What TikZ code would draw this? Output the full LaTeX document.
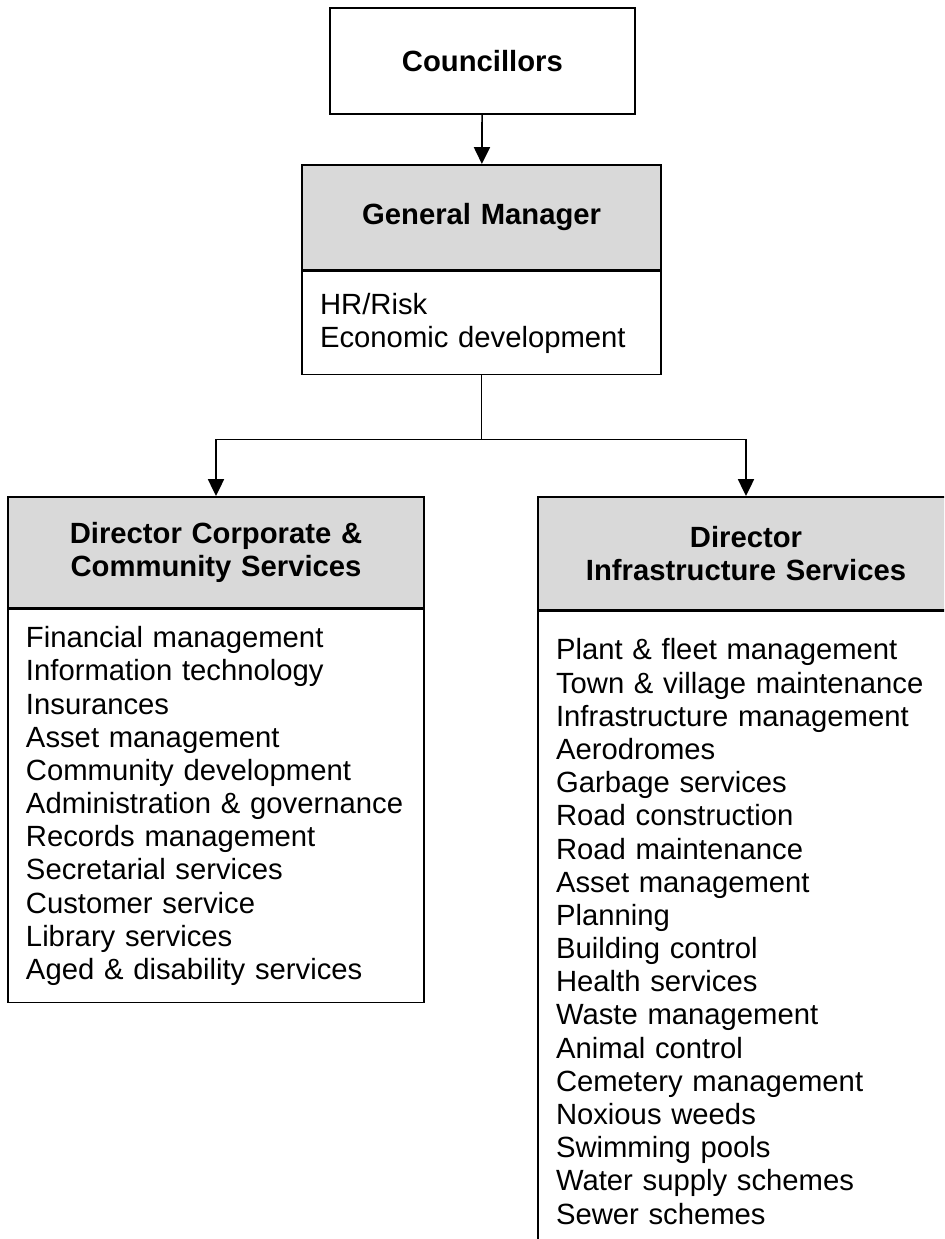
\documentclass[tikz,border=0pt]{standalone}
\usepackage{fontspec}
\setmainfont{Liberation Sans}
\usetikzlibrary{arrows.meta}
\begin{document}
\fontsize{20.8}{23.6}\selectfont
\begin{tikzpicture}[line width=1.2pt,
 box/.style={draw,inner sep=0pt,align=center,font=\bfseries,anchor=north},
 headbox/.style={box,fill=black!15},
 listbox/.style={draw,inner xsep=0.45cm,inner ysep=0pt,align=left,anchor=north},
 arr/.style={-{Triangle[length=0.42cm,width=0.4cm]}}]
\useasboundingbox (0,0) rectangle (23.6,-30.975);
\clip (0,0) rectangle (23.6,-30.975);

\node[box,text width=7.625cm,minimum height=2.65cm] (coun) at (12.06,-0.175) {Councillors};
\node[headbox,text width=8.975cm,minimum height=2.625cm] (gm) at (12.04,-4.1) {General Manager};
\node[listbox,text width=8.075cm,minimum height=2.575cm] (gmlist) at (gm.south)
 {HR/Risk\\Economic development};

\node[headbox,text width=10.4cm,minimum height=2.775cm] (corp) at (5.4,-12.4)
 {Director Corporate \&\\Community Services};
\node[listbox,text width=9.5cm,minimum height=9.825cm] (corplist) at (corp.south)
 {Financial management\\Information technology\\Insurances\\Asset management\\
  Community development\\Administration \& governance\\Records management\\
  Secretarial services\\Customer service\\Library services\\Aged \& disability services};

\node[headbox,text width=10.4cm,minimum height=2.825cm] (infra) at (18.65,-12.4)
 {Director\\Infrastructure Services};
\node[listbox,text width=9.5cm,minimum height=16cm] (infralist) at (infra.south)
 {Plant \& fleet management\\Town \& village maintenance\\Infrastructure management\\
  Aerodromes\\Garbage services\\Road construction\\Road maintenance\\Asset management\\
  Planning\\Building control\\Health services\\Waste management\\Animal control\\
  Cemetery management\\Noxious weeds\\Swimming pools\\Water supply schemes\\Sewer schemes};

% reporting lines
\draw[arr] (coun) -- (gm);
\draw (gmlist.south) -- ++(0,-1.6) coordinate (split);
\draw[arr] (split) -| (corp.north);
\draw[arr] (split) -| (infra.north);
\end{tikzpicture}
\end{document}
